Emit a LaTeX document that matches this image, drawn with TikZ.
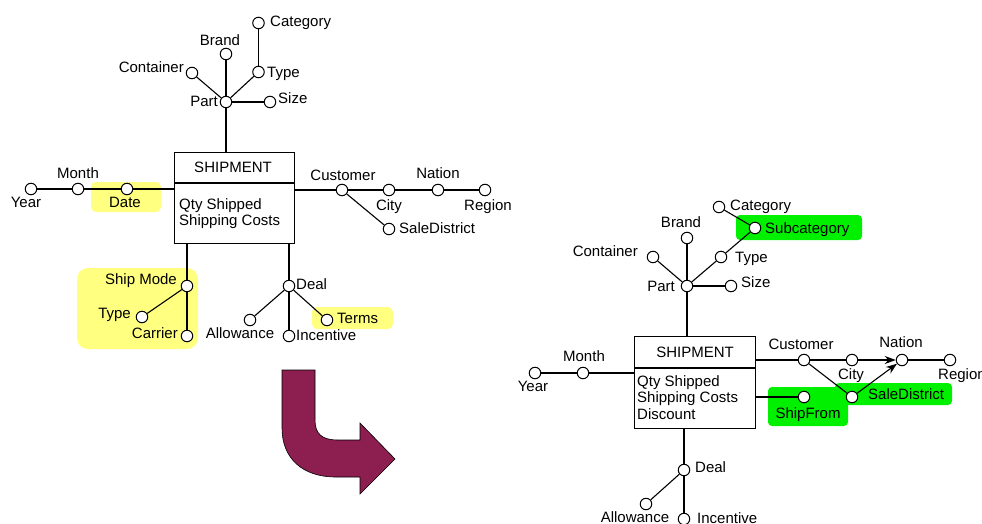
\documentclass[tikz,border=0pt]{standalone}
\usepackage{fontspec}
\setmainfont{Liberation Sans}
\usetikzlibrary{arrows.meta}
\definecolor{hlyellow}{RGB}{255,255,128}
\definecolor{hlgreen}{RGB}{0,240,0}
\definecolor{turn}{RGB}{140,31,80}
\tikzset{
  dot/.style={circle, draw, fill=white, inner sep=0pt, minimum size=11.5pt, line width=1pt},
  lbl/.style={inner sep=0pt, font=\fontsize{15}{16.5}\selectfont, text height=10.8pt, text depth=0pt},
  conn/.style={line width=1.1pt},
  box/.style={draw, line width=1.1pt, inner sep=0pt, anchor=north west},
  hly/.style={fill=hlyellow, rounded corners=5pt},
  hlg/.style={fill=hlgreen, rounded corners=4pt},
  dim/.style={-{Stealth[length=11pt,width=8pt]}, line width=1.1pt},
}
\begin{document}
\begin{tikzpicture}[x=1pt,y=-1pt]
\clip (0,0) rectangle (982,523);
\fill[white] (0,0) rectangle (982,523);

% ---------- highlights (background) ----------
\fill[hly] (91,182) rectangle (161,212);
\fill[hly, rounded corners=11pt] (77,268) rectangle (198,349);
\fill[hly] (312,307) rectangle (393,329);
\fill[hlg] (736,215) rectangle (862,240);
\fill[hlg] (835,383) rectangle (952,405);
\fill[hlg] (768,387) rectangle (848,426);

% ================= original schema =================
\node[box, minimum width=120pt, minimum height=91pt] (lship) at (174,152) {};
\draw[conn] (174,183) -- (294,183);
\node[lbl] (lshiptitle) at (233,167) {SHIPMENT};
\node[lbl, anchor=west] (lm1) at (179,204) {Qty Shipped};
\node[lbl, anchor=west] (lm2) at (179,220.5) {Shipping Costs};

% part hierarchy
\node[dot] (lpart) at (226,102) {};
\node[dot] (lcontainer) at (192,73) {};
\node[dot] (lbrand) at (226,54) {};
\node[dot] (ltype) at (258.5,72) {};
\node[dot] (lcategory) at (258.5,23) {};
\node[dot] (lsize) at (270,102) {};
\draw[conn] (lpart) -- (lpart |- lship.north);
\draw[conn] (lpart) -- (lcontainer);
\draw[conn] (lpart) -- (lbrand);
\draw[conn] (lpart) -- (ltype);
\draw[conn] (ltype) -- (lcategory);
\draw[conn] (lpart) -- (lsize);

% date hierarchy
\node[dot] (lyear) at (31,189) {};
\node[dot] (lmonth) at (78,189) {};
\node[dot] (ldate) at (127,189) {};
\draw[conn] (lyear) -- (lmonth);
\draw[conn] (lmonth) -- (ldate);
\draw[conn] (ldate) -- (ldate -| lship.west);

% customer hierarchy
\node[dot] (lcustomer) at (342,190) {};
\node[dot] (lcity) at (389,190) {};
\node[dot] (lnation) at (438,190) {};
\node[dot] (lregion) at (485,190) {};
\node[dot] (lsaledist) at (389,229) {};
\draw[conn] (lcustomer -| lship.east) -- (lcustomer);
\draw[conn] (lcustomer) -- (lcity);
\draw[conn] (lcity) -- (lnation);
\draw[conn] (lnation) -- (lregion);
\draw[conn] (lcustomer) -- (lsaledist);

% ship mode hierarchy
\node[dot] (lshipmode) at (187,286) {};
\node[dot] (lmtype) at (142,317) {};
\node[dot] (lcarrier) at (187,336) {};
\draw[conn] (lshipmode |- lship.south) -- (lshipmode);
\draw[conn] (lshipmode) -- (lmtype);
\draw[conn] (lshipmode) -- (lcarrier);

% deal hierarchy
\node[dot] (ldeal) at (289,286) {};
\node[dot] (lallow) at (250,320) {};
\node[dot] (lincent) at (289,336) {};
\node[dot] (lterms) at (327,320) {};
\draw[conn] (ldeal |- lship.south) -- (ldeal);
\draw[conn] (ldeal) -- (lallow);
\draw[conn] (ldeal) -- (lincent);
\draw[conn] (ldeal) -- (lterms);

% labels
\node[lbl, anchor=west] at (270,21) {Category};
\node[lbl] at (220,40) {Brand};
\node[lbl, anchor=east] at (184,67) {Container};
\node[lbl, anchor=west] at (267,72) {Type};
\node[lbl, anchor=east] at (218,101) {Part};
\node[lbl, anchor=west] at (278,98) {Size};
\node[lbl] at (26,202) {Year};
\node[lbl] at (78,173) {Month};
\node[lbl] at (125,202) {Date};
\node[lbl] at (343,175) {Customer};
\node[lbl] at (389,205) {City};
\node[lbl] at (438,173) {Nation};
\node[lbl] at (488,205) {Region};
\node[lbl, anchor=west] at (399,228) {SaleDistrict};
\node[lbl, anchor=east] at (177,279) {Ship Mode};
\node[lbl, anchor=east] at (131,313) {Type};
\node[lbl, anchor=east] at (178,333) {Carrier};
\node[lbl, anchor=west] at (296,284) {Deal};
\node[lbl] at (240,333) {Allowance};
\node[lbl, anchor=west] at (296,335) {Incentive};
\node[lbl, anchor=west] at (337,318) {Terms};

% ================= turning arrow =================
\filldraw[fill=turn, draw=black, line width=0.6pt]
  (282,370) -- (315,370) -- (315,420)
  .. controls (315,434) and (322,440) .. (338,440)
  -- (360,440) -- (360,423) -- (395,459) -- (360,494) -- (360,477)
  -- (336,477) .. controls (302,477) and (282,458) .. (282,428) -- cycle;

% ================= revised schema =================
\node[box, minimum width=121pt, minimum height=92pt] (rship) at (634,336) {};
\draw[conn] (634,368) -- (755,368);
\node[lbl] (rshiptitle) at (695,352) {SHIPMENT};
\node[lbl, anchor=west] (rm1) at (637,381) {Qty Shipped};
\node[lbl, anchor=west] (rm2) at (637,397.5) {Shipping Costs};
\node[lbl, anchor=west] (rm3) at (637,414) {Discount};

% part hierarchy
\node[dot] (rpart) at (687,286) {};
\node[dot] (rcontainer) at (653,257) {};
\node[dot] (rbrand) at (687,238) {};
\node[dot] (rtype) at (721,257) {};
\node[dot] (rsubcat) at (755,228) {};
\node[dot] (rcategory) at (719,207) {};
\node[dot] (rsize) at (731,286) {};
\draw[conn] (rpart) -- (rpart |- rship.north);
\draw[conn] (rpart) -- (rcontainer);
\draw[conn] (rpart) -- (rbrand);
\draw[conn] (rpart) -- (rtype);
\draw[conn] (rtype) -- (rsubcat);
\draw[conn] (rsubcat) -- (rcategory);
\draw[conn] (rpart) -- (rsize);

% date hierarchy
\node[dot] (ryear) at (535,373) {};
\node[dot] (rmonth) at (583,373) {};
\draw[conn] (ryear) -- (rmonth);
\draw[conn] (rmonth) -- (rmonth -| rship.west);

% customer hierarchy
\node[dot] (rcustomer) at (804,360) {};
\node[dot] (rcity) at (852,360) {};
\node[dot] (rnation) at (902,360) {};
\node[dot] (rregion) at (950,360) {};
\node[dot] (rsaledist) at (852,397) {};
\node[dot] (rshipfrom) at (804,397) {};
\draw[conn] (rcustomer -| rship.east) -- (rcustomer);
\draw[conn] (rcustomer) -- (rcity);
\draw[dim] (rcity) -- (rnation);
\draw[conn] (rnation) -- (rregion);
\draw[conn] (rcustomer) -- (rsaledist);
\draw[dim] (rsaledist) -- (rnation);
\draw[conn] (rshipfrom -| rship.east) -- (rshipfrom);

% deal hierarchy
\node[dot] (rdeal) at (684,470) {};
\node[dot] (rallow) at (646,504) {};
\node[dot] (rincent) at (684,519) {};
\draw[conn] (rdeal |- rship.south) -- (rdeal);
\draw[conn] (rdeal) -- (rallow);
\draw[conn] (rdeal) -- (rincent);

% labels
\node[lbl, anchor=west] at (730,205) {Category};
\node[lbl, anchor=west] at (765,228) {Subcategory};
\node[lbl] at (681,222) {Brand};
\node[lbl, anchor=east] at (638,251) {Container};
\node[lbl, anchor=west] at (735,257) {Type};
\node[lbl, anchor=east] at (675,286) {Part};
\node[lbl, anchor=west] at (741,282) {Size};
\node[lbl] at (533,386) {Year};
\node[lbl] at (584,356) {Month};
\node[lbl] at (801,344) {Customer};
\node[lbl] at (851,374) {City};
\node[lbl] at (901,342) {Nation};
\node[lbl, anchor=west] at (938,374) {Region};
\node[lbl, anchor=west] at (868,394) {SaleDistrict};
\node[lbl] at (808,413) {ShipFrom};
\node[lbl, anchor=west] at (695,467) {Deal};
\node[lbl] at (635,517) {Allowance};
\node[lbl, anchor=west] at (697,518) {Incentive};
\end{tikzpicture}
\end{document}
